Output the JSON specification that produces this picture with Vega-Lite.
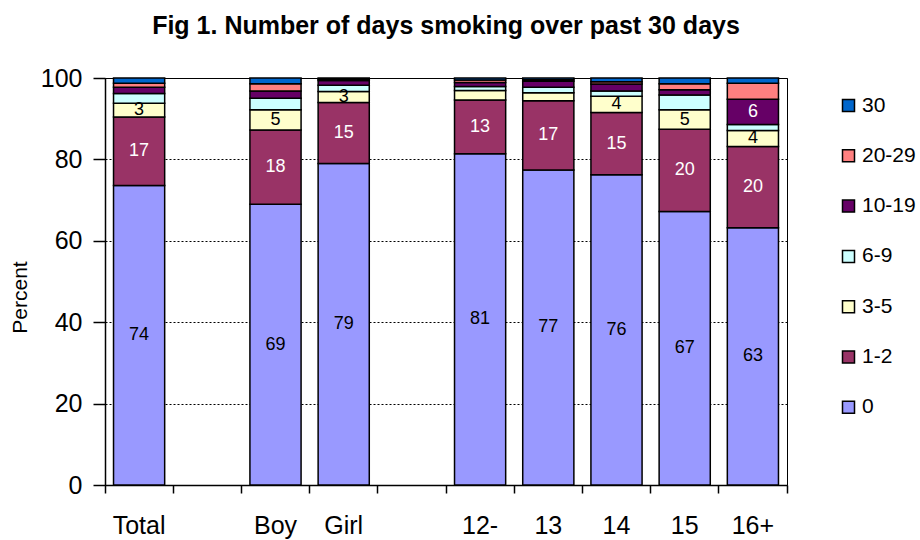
{
  "$schema": "https://vega.github.io/schema/vega-lite/v6.json",
  "autosize": "none",
  "width": 682,
  "height": 407,
  "padding": {"left": 105, "top": 78, "right": 133, "bottom": 55},
  "background": "white",
  "title": {
    "text": "Fig 1. Number of days smoking over past 30 days",
    "font": "Liberation Sans",
    "fontSize": 25,
    "fontWeight": "bold",
    "color": "black",
    "anchor": "middle",
    "frame": "group",
    "baseline": "alphabetic",
    "offset": 7
  },
  "config": {
    "font": "Liberation Sans",
    "view": {"stroke": "black", "strokeWidth": 1}
  },
  "data": {
    "values": [
      {"c": "Total", "s": "0", "k": 0, "v": 73.6},
      {"c": "Total", "s": "1-2", "k": 1, "v": 16.8},
      {"c": "Total", "s": "3-5", "k": 2, "v": 3.4},
      {"c": "Total", "s": "6-9", "k": 3, "v": 2.4},
      {"c": "Total", "s": "10-19", "k": 4, "v": 1.5},
      {"c": "Total", "s": "20-29", "k": 5, "v": 1.0},
      {"c": "Total", "s": "30", "k": 6, "v": 1.3},
      {"c": "Boy", "s": "0", "k": 0, "v": 69.0},
      {"c": "Boy", "s": "1-2", "k": 1, "v": 18.2},
      {"c": "Boy", "s": "3-5", "k": 2, "v": 5.0},
      {"c": "Boy", "s": "6-9", "k": 3, "v": 2.8},
      {"c": "Boy", "s": "10-19", "k": 4, "v": 1.8},
      {"c": "Boy", "s": "20-29", "k": 5, "v": 1.8},
      {"c": "Boy", "s": "30", "k": 6, "v": 1.4},
      {"c": "Girl", "s": "0", "k": 0, "v": 79.0},
      {"c": "Girl", "s": "1-2", "k": 1, "v": 15.0},
      {"c": "Girl", "s": "3-5", "k": 2, "v": 2.7},
      {"c": "Girl", "s": "6-9", "k": 3, "v": 1.5},
      {"c": "Girl", "s": "10-19", "k": 4, "v": 1.2},
      {"c": "Girl", "s": "20-29", "k": 5, "v": 0.3},
      {"c": "Girl", "s": "30", "k": 6, "v": 0.3},
      {"c": "12-", "s": "0", "k": 0, "v": 81.4},
      {"c": "12-", "s": "1-2", "k": 1, "v": 13.2},
      {"c": "12-", "s": "3-5", "k": 2, "v": 2.3},
      {"c": "12-", "s": "6-9", "k": 3, "v": 1.0},
      {"c": "12-", "s": "10-19", "k": 4, "v": 1.0},
      {"c": "12-", "s": "20-29", "k": 5, "v": 0.6},
      {"c": "12-", "s": "30", "k": 6, "v": 0.5},
      {"c": "13", "s": "0", "k": 0, "v": 77.4},
      {"c": "13", "s": "1-2", "k": 1, "v": 17.0},
      {"c": "13", "s": "3-5", "k": 2, "v": 2.0},
      {"c": "13", "s": "6-9", "k": 3, "v": 1.3},
      {"c": "13", "s": "10-19", "k": 4, "v": 1.5},
      {"c": "13", "s": "20-29", "k": 5, "v": 0.4},
      {"c": "13", "s": "30", "k": 6, "v": 0.4},
      {"c": "14", "s": "0", "k": 0, "v": 76.2},
      {"c": "14", "s": "1-2", "k": 1, "v": 15.3},
      {"c": "14", "s": "3-5", "k": 2, "v": 4.0},
      {"c": "14", "s": "6-9", "k": 3, "v": 1.3},
      {"c": "14", "s": "10-19", "k": 4, "v": 1.7},
      {"c": "14", "s": "20-29", "k": 5, "v": 0.6},
      {"c": "14", "s": "30", "k": 6, "v": 0.9},
      {"c": "15", "s": "0", "k": 0, "v": 67.2},
      {"c": "15", "s": "1-2", "k": 1, "v": 20.2},
      {"c": "15", "s": "3-5", "k": 2, "v": 4.8},
      {"c": "15", "s": "6-9", "k": 3, "v": 3.6},
      {"c": "15", "s": "10-19", "k": 4, "v": 1.3},
      {"c": "15", "s": "20-29", "k": 5, "v": 1.5},
      {"c": "15", "s": "30", "k": 6, "v": 1.4},
      {"c": "16+", "s": "0", "k": 0, "v": 63.2},
      {"c": "16+", "s": "1-2", "k": 1, "v": 20.0},
      {"c": "16+", "s": "3-5", "k": 2, "v": 3.9},
      {"c": "16+", "s": "6-9", "k": 3, "v": 1.5},
      {"c": "16+", "s": "10-19", "k": 4, "v": 6.2},
      {"c": "16+", "s": "20-29", "k": 5, "v": 3.9},
      {"c": "16+", "s": "30", "k": 6, "v": 1.3}
    ]
  },
  "transform": [
    {"stack": "v", "groupby": ["c"], "sort": [{"field": "k", "order": "ascending"}], "as": ["y0", "y1"]},
    {"calculate": "(datum.y0 + datum.y1) / 2", "as": "mid"}
  ],
  "encoding": {
    "x": {
      "field": "c",
      "type": "nominal",
      "sort": null,
      "scale": {"domain": ["Total", "g1", "Boy", "Girl", "g2", "12-", "13", "14", "15", "16+"], "paddingInner": 0, "paddingOuter": 0},
      "axis": {
        "title": null,
        "labelAngle": 0,
        "labelFontSize": 25,
        "labelColor": "black",
        "labelExpr": "(datum.value == 'g1' || datum.value == 'g2') ? '' : datum.value",
        "bandPosition": 1,
        "tickExtra": true,
        "labelOffset": 0,
        "tickSize": 8,
        "tickColor": "black",
        "tickWidth": 1.5,
        "domainColor": "black",
        "domainWidth": 1.5,
        "labelPadding": 20,
        "grid": false
      }
    }
  },
  "layer": [
    {
      "mark": {"type": "bar", "width": {"band": 0.75}, "stroke": "black", "strokeWidth": 1.5},
      "encoding": {
        "y": {
          "field": "y1",
          "type": "quantitative",
          "scale": {"domain": [0, 100], "nice": false},
          "axis": {
            "title": "Percent",
            "titleFontSize": 21,
            "titleFontWeight": "normal",
            "titleColor": "black",
            "titleX": -85,
            "titleY": 219,
            "titleAngle": -90,
            "titleAlign": "center",
            "titleBaseline": "middle",
            "values": [0, 20, 40, 60, 80, 100],
            "labelFontSize": 25,
            "labelColor": "black",
            "labelPadding": 11,
            "tickSize": 12,
            "tickColor": "black",
            "tickWidth": 1.5,
            "domainColor": "black",
            "domainWidth": 1.5,
            "grid": true,
            "gridColor": "black",
            "gridDash": [2, 2],
            "gridWidth": 1
          }
        },
        "y2": {"field": "y0"},
        "color": {
          "field": "s",
          "type": "nominal",
          "scale": {
            "domain": ["30", "20-29", "10-19", "6-9", "3-5", "1-2", "0"],
            "range": ["#0066CC", "#FF8080", "#660066", "#CCFFFF", "#FFFFCC", "#993366", "#9999FF"]
          },
          "legend": {
            "title": null,
            "orient": "none",
            "legendX": 733,
            "legendY": 17,
            "symbolType": "square",
            "symbolSize": 144,
            "symbolStrokeColor": "black",
            "symbolStrokeWidth": 1.5,
            "symbolOpacity": 1,
            "labelFontSize": 21,
            "labelColor": "black",
            "labelOffset": 3,
            "rowPadding": 28.3
          }
        }
      }
    },
    {
      "transform": [{"filter": "(datum.k <= 2 && datum.v >= 2.5) || datum.v >= 5"}],
      "mark": {"type": "text", "fontSize": 18, "baseline": "middle", "align": "center"},
      "encoding": {
        "y": {"field": "mid", "type": "quantitative"},
        "text": {"field": "v", "type": "quantitative", "format": ".0f"},
        "color": {"condition": {"test": "datum.s == '1-2' || datum.s == '10-19'", "value": "white"}, "value": "black"}
      }
    }
  ]
}
